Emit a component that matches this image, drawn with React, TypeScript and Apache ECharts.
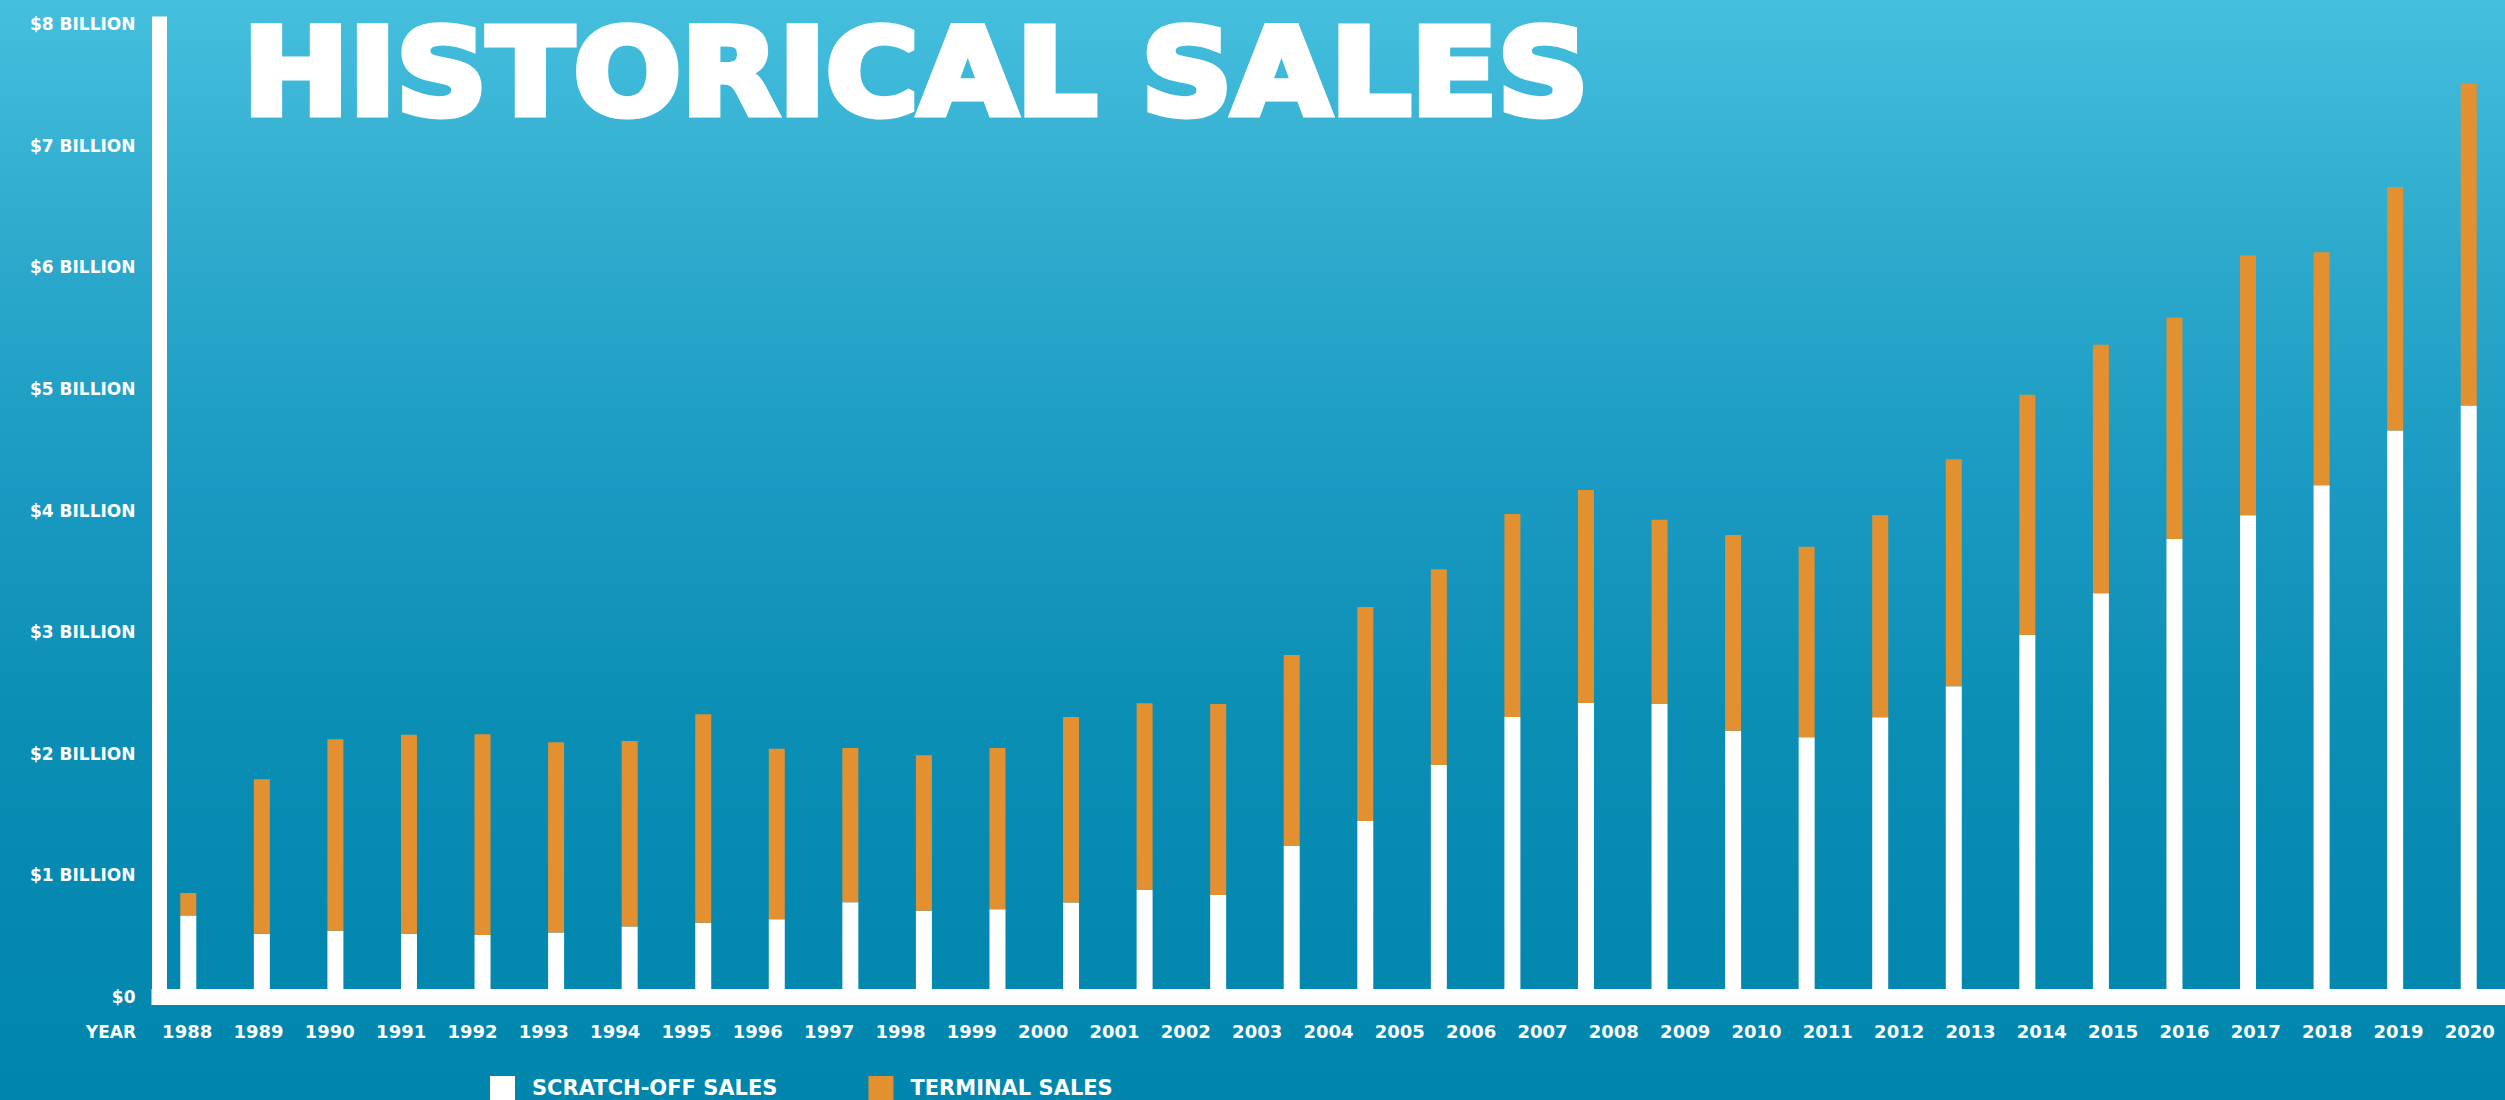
import React, { useEffect, useRef } from "react";
import * as echarts from "echarts";

// Bars drawn in the reference (32 bars)
const barYears = [
  "1988", "1989", "1990", "1991", "1992", "1993", "1994", "1995",
  "1996", "1997", "1998", "1999", "2000", "2001", "2002", "2003",
  "2004", "2005", "2006", "2007", "2008", "2009", "2010", "2011",
  "2012", "2013", "2014", "2015", "2016", "2017", "2018", "2019",
];

// Year labels printed under the axis (33 labels)
const labelYears = [
  "1988", "1989", "1990", "1991", "1992", "1993", "1994", "1995",
  "1996", "1997", "1998", "1999", "2000", "2001", "2002", "2003",
  "2004", "2005", "2006", "2007", "2008", "2009", "2010", "2011",
  "2012", "2013", "2014", "2015", "2016", "2017", "2018", "2019", "2020",
];

// Billions of dollars
const scratchOffSales = [
  0.67, 0.52, 0.545, 0.52, 0.51, 0.53, 0.58, 0.61,
  0.639, 0.779, 0.71, 0.721, 0.776, 0.88, 0.839, 1.242,
  1.447, 1.908, 2.303, 2.418, 2.41, 2.19, 2.135, 2.3,
  2.555, 2.977, 3.32, 3.766, 3.961, 4.208, 4.657, 4.863,
];

const terminalSales = [
  0.185, 1.27, 1.575, 1.637, 1.65, 1.565, 1.525, 1.715,
  1.403, 1.269, 1.278, 1.327, 1.527, 1.535, 1.571, 1.57,
  1.76, 1.609, 1.669, 1.751, 1.513, 1.609, 1.566, 1.661,
  1.867, 1.974, 2.042, 1.821, 2.136, 1.916, 2.002, 2.648,
];

const yTickLabels = [
  "$0", "$1 BILLION", "$2 BILLION", "$3 BILLION", "$4 BILLION",
  "$5 BILLION", "$6 BILLION", "$7 BILLION", "$8 BILLION",
];

const seriesNames = ["SCRATCH-OFF SALES", "TERMINAL SALES"];
const titleText = "HISTORICAL SALES";
const xAxisName = "YEAR";

const WHITE = "#ffffff";
const ORANGE = "#E39030";
const FONT = '"DejaVu Sans", sans-serif';

export default function App() {
  const ref = useRef<HTMLDivElement>(null);

  useEffect(() => {
    if (!ref.current) return;
    const chart = echarts.init(ref.current, undefined, { renderer: "svg" });
    chart.setOption({
      animation: false,
      backgroundColor: "transparent",
      grid: {
        left: 151.5,
        top: 24,
        width: 2354,
        height: 973,
        containLabel: false,
        outerBoundsMode: "none",
      },
      legend: {
        data: seriesNames,
        left: 490,
        top: 1076,
        padding: 0,
        icon: "rect",
        itemWidth: 25,
        itemHeight: 24,
        itemGap: 91,
        textStyle: {
          color: WHITE,
          fontFamily: FONT,
          fontWeight: "bold",
          fontSize: 21,
          lineHeight: 20,
          padding: [0, 0, 0, 12],
        },
        selectedMode: false,
      },
      xAxis: [
        {
          type: "category",
          data: barYears,
          position: "bottom",
          show: false,
          boundaryGap: true,
        },
        {
          type: "category",
          data: labelYears,
          position: "bottom",
          boundaryGap: true,
          axisLine: {
            show: true,
            onZero: false,
            lineStyle: { color: WHITE, width: 16, cap: "butt" },
          },
          axisTick: { show: false },
          splitLine: { show: false },
          axisLabel: {
            color: WHITE,
            fontFamily: FONT,
            fontWeight: "bold",
            fontSize: 18,
            margin: 25,
            interval: 0,
          },
        },
      ],
      yAxis: {
        type: "value",
        min: 0,
        max: 8,
        interval: 1,
        offset: -8,
        axisLine: {
          show: true,
          lineStyle: { color: WHITE, width: 15, cap: "square" },
        },
        axisTick: { show: false },
        splitLine: { show: false },
        axisLabel: {
          color: WHITE,
          fontFamily: FONT,
          fontWeight: "bold",
          fontSize: 17,
          margin: 24,
          formatter: (v: number) => yTickLabels[Math.round(v)] ?? "",
        },
      },
      series: [
        {
          name: seriesNames[0],
          type: "bar",
          stack: "sales",
          xAxisIndex: 0,
          barWidth: 16,
          data: scratchOffSales,
          itemStyle: { color: WHITE },
          z: 3,
        },
        {
          name: seriesNames[1],
          type: "bar",
          stack: "sales",
          xAxisIndex: 0,
          barWidth: 16,
          data: terminalSales,
          itemStyle: { color: ORANGE },
          z: 3,
        },
      ],
      graphic: [
        {
          type: "text",
          x: 243,
          y: 73,
          scaleX: 1.055,
          style: {
            text: titleText,
            fill: WHITE,
            stroke: WHITE,
            lineWidth: 7,
            font: `bold 120px ${FONT}`,
            lineHeight: 110,
            textAlign: "left",
            textVerticalAlign: "middle",
          },
        },
        {
          type: "text",
          x: 136,
          y: 1032,
          style: {
            text: xAxisName,
            fill: WHITE,
            font: `bold 17px ${FONT}`,
            textAlign: "right",
            textVerticalAlign: "middle",
          },
        },
      ],
    });
    return () => chart.dispose();
  }, []);

  return (
    <div
      ref={ref}
      style={{
        position: "absolute",
        left: 0,
        top: 0,
        width: 2505,
        height: 1100,
        overflow: "hidden",
        background:
          "linear-gradient(to bottom, #46BFDE 0%, #2DAACC 22%, #1A9AC2 44%, #0C8FB5 64%, #0488B0 85%, #0086AD 100%)",
      }}
    />
  );
}
